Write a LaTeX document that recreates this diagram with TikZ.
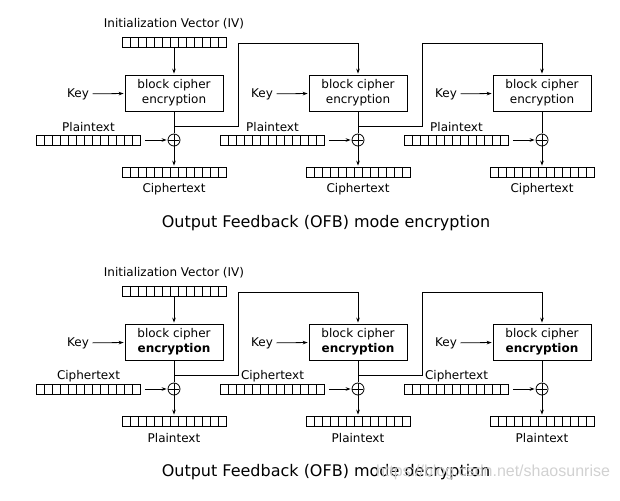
\documentclass[tikz,border=0pt]{standalone}
\usepackage{fontspec}
\setmainfont{DejaVu Sans}
\newfontfamily\markfont{Liberation Sans}
\usetikzlibrary{positioning, arrows.meta}

\begin{document}
\begin{tikzpicture}
	[x=1pt, y=-1pt, on grid, shorten >=1pt, line width=0.8pt,
	 font=\fontsize{12}{15}\selectfont,
	 >={Stealth[length=5pt,width=3.6pt]},
	 cipher/.style={draw, minimum width=98pt, minimum height=36pt, align=center, inner sep=0pt},
	 register/.style={draw, minimum width=104pt, minimum height=10pt, inner sep=0pt,
	   path picture={\foreach \k in {1,...,12}
	     \draw ([xshift=\k*8pt]path picture bounding box.south west) -- ([xshift=\k*8pt]path picture bounding box.north west);}},
	 xor/.style={draw, circle, minimum size=12pt, inner sep=0pt,
	   path picture={\draw (path picture bounding box.north) -- (path picture bounding box.south)
	     (path picture bounding box.west) -- (path picture bounding box.east);}},
	 title/.style={font=\fontsize{16}{19}\selectfont}]
   \useasboundingbox (0,0) rectangle (620,500);

   \foreach \m/\y/\inp/\outp/\op/\word in
     {e/0/Plaintext/Ciphertext/{encryption}/encryption,
      d/249/Ciphertext/Plaintext/{\textbf{encryption}}/decryption}{
   \node[title] (title_\m) at (326, 223+\y) {Output Feedback (OFB) mode \word};
   \foreach \c in {0,1,2}{
     \node[cipher] (blk_\m\c) at (174+184*\c, 93+\y) {block cipher\\\op};
     \node (key_\m\c) [left=96pt of blk_\m\c, yshift=-1pt] {Key};
     \node[xor] (xor_\m\c) [below=47pt of blk_\m\c] {};
     \node[register] (in_\m\c) [below left=47pt and 85.5pt of blk_\m\c] {};
     \node (inlab_\m\c) [above=13pt of in_\m\c] {\inp};
     \node[register] (out_\m\c) [below=79pt of blk_\m\c] {};
     \node (outlab_\m\c) [below=17pt of out_\m\c] {\outp};
     \coordinate (tap_\m\c) at ([yshift=-15pt]blk_\m\c.south);
     \coordinate (bend_\m\c) at ([xshift=64pt, yshift=31pt]blk_\m\c.north);

     \draw[->] (key_\m\c) -- (blk_\m\c);
     \draw (blk_\m\c) -- (xor_\m\c);
     \draw[->, shorten <=4pt] (in_\m\c) -- (xor_\m\c);
     \draw[->] (xor_\m\c) -- (out_\m\c);

     \ifnum\c=0
       \node[register] (iv_\m) [above=51pt of blk_\m\c] {};
       \node (ivlab_\m) [above=18pt of iv_\m] {Initialization Vector (IV)};
       \draw[->] (iv_\m) -- (blk_\m\c);
     \else
       \pgfmathtruncatemacro\p{\c-1}
       \draw[->] (tap_\m\p) -| (bend_\m\p) -| (blk_\m\c.north);
     \fi
   }}

   \node[text=black!18, font=\markfont\fontsize{16}{19}\selectfont] (mark) at (493, 472) {https://blog.csdn.net/shaosunrise};
\end{tikzpicture}
\end{document}
